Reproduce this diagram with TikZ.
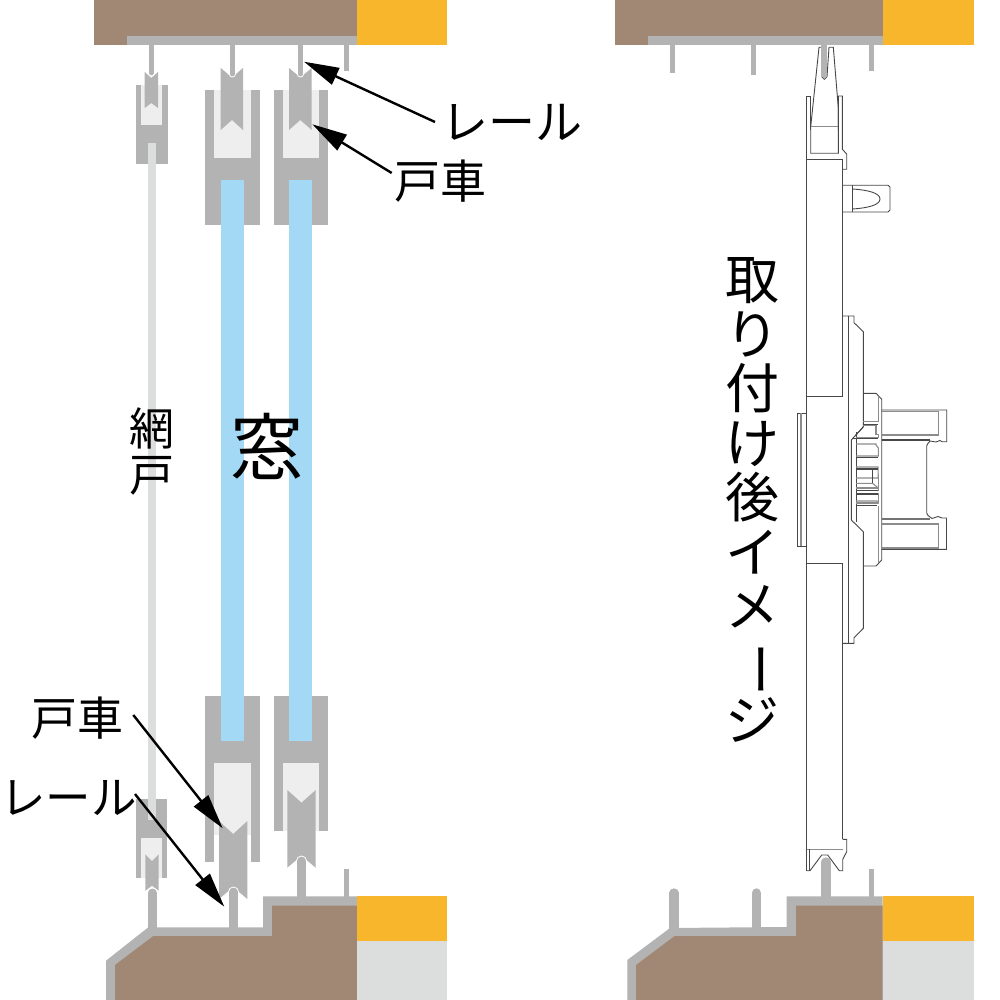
\documentclass[tikz,border=0pt]{standalone}
\usepackage{fontspec}
\usetikzlibrary{arrows.meta}
\newfontfamily\jpf{Noto Sans CJK JP}
\definecolor{gb}{HTML}{A18874}
\definecolor{gg}{HTML}{F8B62D}
\definecolor{gr}{HTML}{B3B3B3}
\definecolor{gl}{HTML}{EEEEEE}
\definecolor{gs}{HTML}{DCDDDD}
\definecolor{gk}{HTML}{A3D9F5}
\tikzset{
  brown/.style={fill=gb},gold/.style={fill=gg},metal/.style={fill=gr},
  pale/.style={fill=gl},screen/.style={fill=gs},glass/.style={fill=gk},
  rail/.style={draw=gr,line cap=round},
  railbutt/.style={draw=gr,line cap=butt},
  halo/.style={draw=white,line cap=round},
  outl/.style={draw=black!72,line width=0.9pt,line join=miter},
  outg/.style={draw=black!45,line width=1.1pt},
  pointer/.style={draw=black,line width=2.4pt,-{Triangle[length=35pt,width=18pt]},shorten >=0pt},
  jp/.style={inner sep=0pt,text=black,font=\jpf},
}
\begin{document}
\begin{tikzpicture}[x=1pt,y=-1pt]
\useasboundingbox (0,0) rectangle (1000,1000);
\fill[white] (0,0) rectangle (1000,1000);
% ---------- left: head
\fill[brown] (94,0) rectangle (357,45);
\fill[gold] (357,0) rectangle (447,45);
\fill[metal] (126.5,36) rectangle (357,45);
% small screen head
\fill[metal] (136,85) rectangle (167.7,164);
\fill[pale] (141,85) rectangle (162,125);
\fill[metal] (144.7,72) -- (151.3,78) -- (158,72) -- (158,108) -- (151.3,103) -- (144.7,108) -- cycle;
\fill[screen] (147.7,143) rectangle (155.7,820);
\draw[halo,line width=6.5pt] (151.3,60) -- (151.3,73);
\draw[rail,line width=4.7pt] (151.3,44) -- (151.3,73);
% glass heads
\fill[metal] (205.3,90) rectangle (259.7,225);
\fill[pale] (214.3,90) rectangle (250.7,158);
\fill[metal] (220.7,68) -- (232,77.5) -- (243,68) -- (243,130) -- (232,120) -- (220.7,130) -- cycle;
\draw[halo,line width=7pt] (232.2,60) -- (232.2,74);
\draw[rail,line width=5pt] (232.2,44) -- (232.2,74);
\fill[metal] (274,90) rectangle (328,225);
\fill[pale] (283,90) rectangle (319,158);
\fill[metal] (289,68) -- (300.3,77.5) -- (311.7,68) -- (311.7,130) -- (300.3,120) -- (289,130) -- cycle;
\draw[halo,line width=7pt] (300.4,60) -- (300.4,74);
\draw[rail,line width=5pt] (300.4,44) -- (300.4,74);
\draw[railbutt,line width=4.7pt] (346.3,44) -- (346.3,71.5);
% glass
\fill[glass] (221,180) rectangle (244,741);
\fill[glass] (289.3,180) rectangle (312,741);
% ---------- left: foot
\fill[metal] (205.3,696) rectangle (259.7,862.3);
\fill[metal] (274,696) rectangle (328,830.7);
\fill[glass] (221,696) rectangle (244,741);
\fill[glass] (289.3,696) rectangle (312,741);
\fill[pale] (214.3,763) rectangle (250.7,835);
\fill[white] (214.3,835) rectangle (250.7,862.3);
\fill[pale] (283,763) rectangle (319,830.7);
\fill[metal] (219,821) -- (233.2,834) -- (247.3,821) -- (247.3,899) -- (233.2,887) -- (219,899) -- cycle;
\fill[metal] (287.3,790) -- (301.5,802.7) -- (315.7,790) -- (315.7,867.7) -- (301.5,855.7) -- (287.3,867.7) -- cycle;
% small screen foot
\fill[metal] (135.7,799) rectangle (167.3,877.7);
\fill[screen] (147.7,700) rectangle (155.7,820);
\fill[pale] (141,838) rectangle (162,877.7);
\fill[metal] (145.3,854.3) -- (152,861) -- (158.7,854.3) -- (158.7,890.7) -- (152,885.7) -- (145.3,890.7) -- cycle;
% base
\draw[halo,line width=11pt] (152.3,893) -- (152.3,930);
\draw[rail,line width=9pt] (152.3,893) -- (152.3,930);
\draw[halo,line width=11pt] (233.5,892) -- (233.5,930);
\draw[rail,line width=9pt] (233.5,892) -- (233.5,930);
\draw[halo,line width=11pt] (301.5,861) -- (301.5,900);
\draw[rail,line width=9pt] (301.5,861) -- (301.5,900);
\draw[railbutt,line width=4.7pt] (346.3,868.7) -- (346.3,897);
\fill[metal] (106,1000) -- (106,960.7) -- (148.3,927.3) -- (263,927.3) -- (263,896.3) -- (357.3,896.3) -- (357.3,1000) -- cycle;
\fill[brown] (115,1000) -- (115,965) -- (153.3,936) -- (272,936) -- (272,905.7) -- (357.3,905.7) -- (357.3,1000) -- cycle;
\fill[gold] (357.3,896.3) rectangle (447,941);
\fill[screen] (357.3,941) rectangle (447,1000);
% ---------- right: head
\fill[brown] (615,0) rectangle (883,45);
\fill[gold] (883,0) rectangle (974,45);
\fill[metal] (647.5,36) rectangle (883,45);
\draw[railbutt,line width=4.7pt] (672.3,44) -- (672.3,73);
\draw[railbutt,line width=4.7pt] (753.3,44) -- (753.3,75);
\draw[railbutt,line width=4.7pt] (871.7,44) -- (871.7,71.5);
% ---------- right: base
\draw[rail,line width=9.4pt] (674,893) -- (674,930);
\draw[rail,line width=9.4pt] (756.3,893) -- (756.3,930);
\draw[rail,line width=9.4pt] (826,862) -- (826,900);
\draw[railbutt,line width=4.7pt] (871.5,868.7) -- (871.5,897);
\fill[metal] (627.3,1000) -- (627.3,960) -- (670,928) -- (786.7,927) -- (786.7,896.3) -- (882.7,896.3) -- (882.7,1000) -- cycle;
\fill[brown] (636,1000) -- (636,965) -- (674.7,936) -- (796,936) -- (796,905.7) -- (882.7,905.7) -- (882.7,1000) -- cycle;
\fill[gold] (882.7,896.3) rectangle (974,941);
\fill[screen] (882.7,941) rectangle (974,1000);
% ---------- right: sash outline
\draw[outl,fill=white] (810.7,126.7) -- (819,47.3) -- (821.7,47.3) -- (821.7,47.3) -- (821.7,76.7) -- (824.3,79.3) -- (827,76.7) -- (829,47.3) -- (833.3,47.3) -- (838.3,108) -- (838.3,153.3) -- (810.7,153.3) -- cycle;
\fill[gr] (821.3,45) rectangle (827.3,76.7);
\fill[gr] (821.3,76) -- (827.3,76) -- (824.3,79) -- cycle;
\draw[outg] (810.7,126.7) -- (838.3,126.7);
\draw[outg] (810.7,153.3) -- (838.3,153.3);
\draw[outl] (810.7,130) -- (810.7,96) -- (806.7,96) -- (806.7,870.7);
\draw[outl] (838.3,130) -- (838.3,96) -- (842.3,96) -- (842.3,149.3) -- (846.7,154) -- (846.7,169.3) -- (842.3,169.3);
\draw[outl] (806.7,159.3) -- (842.7,159.3) -- (842.7,396.7) -- (806.7,396.7);
% knob
\draw[outl] (842.7,185.3) -- (888,185.3) -- (890,187) -- (890,210) -- (888,212) -- (842.7,212);
\draw[outl] (852.3,185.3) -- (852.3,212);
\draw[outl] (852.3,189) .. controls (868,190) and (880,193) .. (880,199) .. controls (880,205) and (868,208) .. (852.3,209);
% mid plate
\draw[outl] (842.7,316) -- (854,316) -- (854,322.7) -- (863.3,331.7) -- (863.3,426.7) -- (851.3,440) -- (851.3,520) -- (863.3,531.7) -- (863.3,628.3) -- (854,637.7) -- (854,643.3) -- (842.7,643.3);
\draw[outl] (848.3,316) -- (848.3,643.3);
\draw[outl] (806.7,563.3) -- (842.7,563.3) -- (842.7,839.3);
% left pad
\draw[outl] (806.7,413.3) -- (797.3,413.3) -- (797.3,546) -- (806.7,546);
\draw[outg] (801,413.3) -- (801,546);
% hub
\draw[outl] (863.3,393.3) -- (876,393.3) -- (881.7,399.3) -- (881.7,560) -- (876,566) -- (863.3,566);
\draw[outg] (878.3,396) -- (878.3,421.7) (878.3,531) -- (878.3,563);
% gear
\draw[outl] (856,432) -- (856,522);
\draw[outl] (863.3,427) -- (856,435);
\draw[outg] (863.3,421.7) -- (878.3,421.7) (863.3,425) -- (876,425);
\draw[outl,line width=1.4pt] (863.3,424.7) -- (878,424.7);
\draw[outg] (876,425) -- (876,434.7) -- (878.3,434.7) -- (878.3,437.7) -- (856,437.7);
\draw[outl,line width=1.4pt] (852,438.5) -- (878,438.5);
\draw[outg] (856,444) -- (876,444) -- (876,445) -- (878.3,448) -- (878.3,456) -- (856,456);
\draw[outl] (856,457) -- (878,457);
\draw[outg] (856,467) -- (878,467) -- (878.3,478) -- (856,478);
\draw[outl,line width=1.1pt] (856,469) -- (878,469);
\draw[outg] (878.3,478) -- (878.3,488) -- (856,488);
\draw[outl] (872.5,470) -- (872.5,483) (872.5,476) -- (872.5,480);
\draw[outg] (856,483.3) -- (872.5,483.3) -- (878.3,488) -- (878.3,491);
\draw[outl] (856,490.5) -- (878,490.5);
\draw[outl,line width=1.2pt] (856,494) -- (878,494);
\draw[outg] (856,501) -- (877,501) -- (878.3,504) -- (878.3,504);
\draw[outg] (856,503) -- (878.3,503) (878.3,493) -- (878.3,503);
\draw[outl] (856,505.5) -- (877,505.5);
\draw[outg] (878.3,505.5) -- (878.3,560);
% arms
\draw[outl] (881.7,410) -- (946.7,410) -- (946.7,441.7) -- (942,441.7) -- (940,440.5) -- (936,442) -- (930,441) -- (927.5,444) -- (926.7,446) -- (926.7,513) -- (928,515.5) -- (932,518.5) -- (938,516.5) -- (942,518) -- (946.5,518) -- (946.5,549.3) -- (881.7,549.3);
\draw[outg] (881.7,411.5) -- (938.3,411.5) -- (938.3,435) -- (881.7,435);
\draw[outl,line width=1.2pt] (881.7,440) -- (930,440);
\draw[draw=black!55,line width=2pt] (881.7,519) -- (930,519);
\draw[outg] (881.7,524) -- (938.7,524) -- (938.7,548) -- (881.7,548);
% foot wheel outline
\draw[outg] (806.7,849.3) -- (842.7,849.3);
\draw[outl] (842.7,839.3) -- (846.7,839.3) -- (846.7,851.7) -- (842.7,859.3) -- (842.7,870.7) -- (839.3,870.7) -- (827.7,855) -- (821.7,855) -- (810,870.7) -- (806.7,870.7);
\draw[outl] (809.3,849.3) -- (809.3,870.7);
% ---------- labels
\node[jp,font=\jpf\fontsize{47}{47}\selectfont,anchor=center] (lblrailA) at (511.5,122) {レール};
\node[jp,font=\jpf\fontsize{46}{46}\selectfont,anchor=center] (lbldoorA) at (440.5,181) {戸車};
\node[jp,font=\jpf\fontsize{46}{46}\selectfont,anchor=center] (lbldoorB) at (77,718) {戸車};
\node[jp,font=\jpf\fontsize{45.5}{45.5}\selectfont,anchor=center] (lblrailB) at (68.5,798) {レール};
\node[jp,font=\jpf\fontsize{73}{73}\selectfont,anchor=center] (lblwin) at (267,446) {窓};
\node[jp,font=\jpf\fontsize{45}{46}\selectfont,align=center,anchor=center] (lblscreen) at (152,451) {網\\戸};
\node[jp,font=\jpf\fontsize{54}{54.5}\selectfont,align=center,anchor=center] (lblafter) at (752,500) {取\\り\\付\\け\\後\\イ\\メ\\\rotatebox[origin=c]{-90}{ー}\\ジ};
% ---------- pointers
\coordinate (pAs) at (435,122); \coordinate (pAt) at (304,61.7);
\coordinate (pBs) at (391.7,173); \coordinate (pBt) at (312.3,124.3);
\coordinate (pCs) at (133.3,715); \coordinate (pCt) at (222.7,828.3);
\coordinate (pDs) at (135,794); \coordinate (pDt) at (224.3,906.7);
\draw[pointer] (pAs) -- (pAt);
\draw[pointer] (pBs) -- (pBt);
\draw[pointer] (pCs) -- (pCt);
\draw[pointer] (pDs) -- (pDt);
\end{tikzpicture}
\end{document}
